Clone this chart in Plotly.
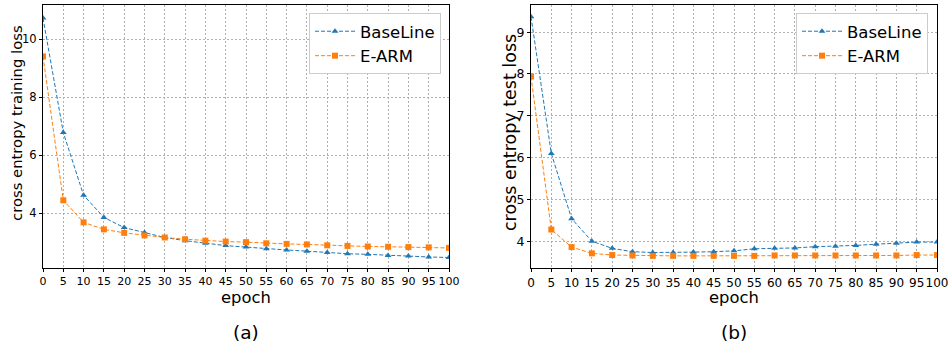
import plotly.graph_objects as go

epochs = list(range(0, 101, 5))

train_baseline = [10.72, 6.78, 4.62, 3.86, 3.51, 3.34, 3.17, 3.06, 2.97, 2.89, 2.84,
                  2.78, 2.74, 2.70, 2.65, 2.61, 2.59, 2.55, 2.53, 2.50, 2.48]
train_earm = [9.40, 4.45, 3.69, 3.45, 3.33, 3.24, 3.17, 3.11, 3.06, 3.03, 3.01,
              2.97, 2.95, 2.93, 2.90, 2.88, 2.86, 2.85, 2.84, 2.83, 2.81]
test_baseline = [9.37, 6.10, 4.54, 4.00, 3.83, 3.75, 3.73, 3.73, 3.74, 3.75, 3.77,
                 3.82, 3.83, 3.84, 3.87, 3.88, 3.90, 3.93, 3.95, 3.98, 3.98]
test_earm = [7.94, 4.28, 3.86, 3.71, 3.67, 3.66, 3.65, 3.65, 3.65, 3.65, 3.65,
             3.65, 3.66, 3.66, 3.66, 3.66, 3.66, 3.66, 3.66, 3.67, 3.67]

x_ticks = list(range(0, 101, 5))
left_yticks = [4, 6, 8, 10]
right_yticks = [4, 5, 6, 7, 8, 9]

BLUE = "#1f77b4"
ORANGE = "#ff7f0e"
FONT = "DejaVu Sans"
W, H = 948, 345

fig = go.Figure()

def add(x, y, name, color, symbol, size, xa, ya, legend):
    fig.add_trace(go.Scatter(
        x=x, y=y, name=name, mode="lines+markers",
        line=dict(color=color, width=1, dash="4px,2px"),
        marker=dict(symbol=symbol, size=size, color=color),
        xaxis=xa, yaxis=ya, legend=legend))

add(epochs, train_baseline, "BaseLine", BLUE, "triangle-up", 6, "x", "y", "legend")
add(epochs, train_earm, "E-ARM", ORANGE, "square", 6, "x", "y", "legend")
add(epochs, test_baseline, "BaseLine", BLUE, "triangle-up", 6, "x2", "y2", "legend2")
add(epochs, test_earm, "E-ARM", ORANGE, "square", 6, "x2", "y2", "legend2")

ydom = [1 - 268 / H, 1 - 5 / H]

def axis(size, **kw):
    d = dict(
        showgrid=True, gridcolor="#b0b0b0", gridwidth=1, griddash="2px,2px",
        showline=True, linecolor="black", linewidth=1.2, mirror=True,
        zeroline=False, ticks="outside", ticklen=3, tickcolor="black",
        tickfont=dict(family=FONT, size=size, color="black"),
        automargin=False, tickangle=0, ticklabeloverflow="allow",
    )
    d.update(kw)
    return d

legend_common = dict(
    yanchor="top", xanchor="right", bgcolor="white", bordercolor="#cccccc",
    borderwidth=1, font=dict(family=FONT, size=16.5, color="black"),
    tracegroupgap=2, itemwidth=40,
)

fig.update_layout(
    width=W, height=H,
    margin=dict(l=0, r=0, t=0, b=0),
    paper_bgcolor="white", plot_bgcolor="white",
    showlegend=True,
    xaxis=axis(11, domain=[43 / W, 449 / W], range=[0, 100], tickvals=x_ticks, anchor="y"),
    yaxis=axis(11.5, domain=ydom, range=[2.12, 11.17], tickvals=left_yticks, anchor="x"),
    xaxis2=axis(12, domain=[531 / W, 937 / W], range=[0, 100], tickvals=x_ticks, anchor="y2"),
    yaxis2=axis(12.5, domain=ydom, range=[3.36, 9.65], tickvals=right_yticks, anchor="x2"),
    legend=dict(x=441 / W, y=1 - 13 / H, **legend_common),
    legend2=dict(x=928 / W, y=1 - 13 / H, **legend_common),
)

annotations = [
    dict(text="epoch", x=246 / W, y=1 - 297 / H, size=16.4),
    dict(text="epoch", x=734 / W, y=1 - 297 / H, size=16.4),
    dict(text="(a)", x=246 / W, y=1 - 332 / H, size=18.5),
    dict(text="(b)", x=734 / W, y=1 - 332 / H, size=18.5),
    dict(text="cross entropy training loss", x=17 / W, y=1 - 123 / H, size=14.8, textangle=-90),
    dict(text="cross entropy test loss", x=510 / W, y=1 - 133 / H, size=17.5, textangle=-90),
]
for a in annotations:
    size = a.pop("size")
    fig.add_annotation(xref="paper", yref="paper", showarrow=False,
                       xanchor="center", yanchor="middle",
                       font=dict(family=FONT, size=size, color="black"), **a)

fig.write_html("out.html", post_script="document.body.style.margin='0';",
               config={"displayModeBar": False})
